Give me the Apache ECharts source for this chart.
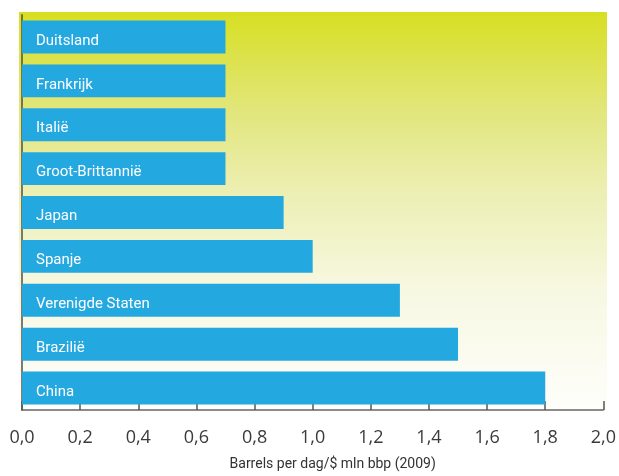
<!DOCTYPE html>
<html><head><meta charset="utf-8">
<script src="https://cdn.jsdelivr.net/npm/echarts@6/dist/echarts.min.js"></script>
<style>html,body{margin:0;padding:0;background:#fff}#c{width:619px;height:476px}</style>
</head><body><div id="c"></div>
<script>
var categories = ['Duitsland','Frankrijk','Italië','Groot-Brittannië','Japan','Spanje','Verenigde Staten','Brazilië','China'];
var values = [0.7,0.7,0.7,0.7,0.9,1.0,1.3,1.5,1.8];
var axisTitle = 'Barrels per dag/$ mln bbp (2009)';
var xMin = 0, xMax = 2.0, xStep = 0.2;

var chart = echarts.init(document.getElementById('c'));
chart.setOption({
  animation:false,
  graphic:[{type:'rect',z:-10,silent:true,shape:{x:19,y:12,width:588,height:398},
    style:{fill:new echarts.graphic.LinearGradient(0,0,0,1,[
      {offset:0,color:'#d7df22'},{offset:0.25,color:'#e2e67c'},{offset:0.45,color:'#ecefb2'},
      {offset:0.7,color:'#f7f8e2'},{offset:1,color:'#fefefb'}])}}],
  grid:{left:22,right:15,top:15,bottom:61,containLabel:false},
  xAxis:{type:'value',min:xMin,max:xMax,interval:xStep,
    name:axisTitle,nameLocation:'middle',nameGap:47,
    nameTextStyle:{fontFamily:'Roboto, sans-serif',fontSize:14,color:'#333',padding:[0,0,0,40]},
    axisLine:{show:true,lineStyle:{color:'#666',width:1.5}},
    axisTick:{show:true,inside:true,length:9,lineStyle:{color:'#555',width:1.5}},
    axisLabel:{fontFamily:'Open Sans, sans-serif',fontSize:18,color:'#3a3a3a',margin:19,
      formatter:function(v){return v.toFixed(1).replace('.',',');}},
    splitLine:{show:false}},
  yAxis:{type:'category',data:categories,inverse:true,
    axisLine:{show:true,lineStyle:{color:'rgba(70,70,60,0.7)',width:2}},
    axisTick:{show:false},axisLabel:{show:false}},
  series:[{type:'bar',data:values,barCategoryGap:'25%',
    itemStyle:{color:'#24a8e0'},
    label:{show:true,position:'insideLeft',distance:14,offset:[0,4],color:'#fff',
      fontFamily:'Roboto, sans-serif',fontSize:15,
      formatter:function(p){return p.name;}}}]
});
</script></body></html>
